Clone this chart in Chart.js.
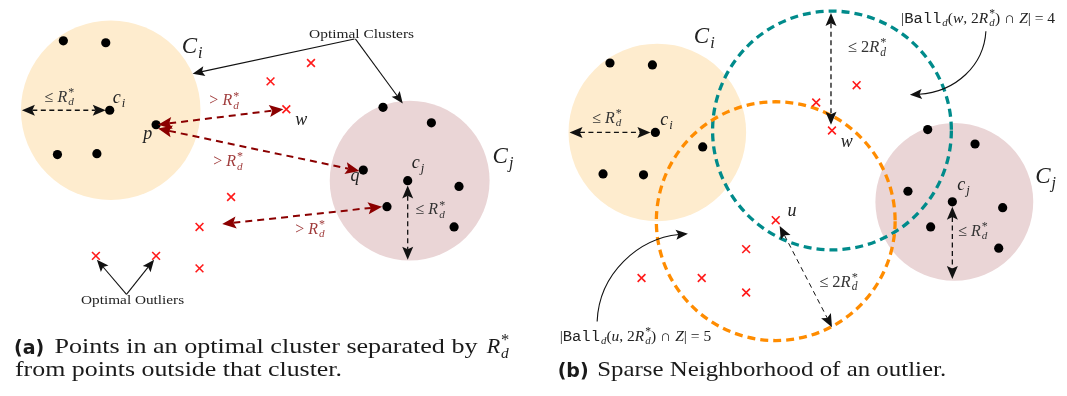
<!DOCTYPE html>
<html>
<head>
<meta charset="utf-8">
<script src="https://cdn.jsdelivr.net/npm/chart.js@4.4.0/dist/chart.umd.min.js"></script>
<style>
  html, body { margin: 0; padding: 0; background: #fff; }
  canvas { display: block; }
</style>
</head>
<body>
<canvas id="fig" width="1067" height="396"></canvas>
<script>
// ---- data (figure units, y grows downwards) ----
// panel (a)
const clusterPtsA = [[57,35],[100,37],[104,107],[151,122],[51,153],[91,152],
  [381,104],[430,120],[361,169],[406,180],[458,186],[385,207],[453,228]];
const outliersA = [[267,77],[308,58],[283,106],[227,197],[195,228],[90,258],[151,258],[195,271]];
const clustersA = [[105,107,91],[408,180,81]]; // cx, cy, radius

// panel (b)
const clusterPtsB = [[611,58],[654,60],[657,130],[705,145],[604,173],[645,174],
  [933,127],[981,142],[913,191],[958,202],[1009,208],[936,228],[1005,250]];
const outliersB = [[861,81],[820,99],[836,128],[779,221],[749,251],[643,281],[704,281],[749,296]];
const clustersB = [[659,130,90],[960,202,80]];
const ballsB = [[836,128,121],[779,222,121]]; // Ball(w,2R), Ball(u,2R)

// annotation arrows [x1,y1,x2,y2]
const blackDashArrows = [[15,107,100,107],[406,185,406,262],[570,130,652,130],[958,207,958,282],[835,6,835,122]];
const thinDashArrows = [[783,227,836,332]];
const redDashArrows = [[153,122,280,106],[153,126,357,170],[218,225,380,207]];
const solidArrows = [[352,33,188,69],[353,33,401,100],[121,298,91,262],[121,298,149,262]];
const curvedArrows = [[992,25,990,60,962,88,915,91],[598,326,600,276,640,240,690,235]];

const clusterFill = ['#feecce', '#ead5d6'];
const ballColors = ['#008b8b', '#ff8c00'];

const LE = ['≤ ', 'r'];
const RD = ['R', 'i', 'd', '*'];
const labels = [
  // x, baseline y, size, colour, parts
  [177, 48, 23, '#222', [['C','i','i']]],
  [107, 99, 18, '#222', [['c','i','i']]],
  [38, 98, 16, '#333', [LE, RD]],
  [138, 137, 18, '#222', [['p','i']]],
  [292, 122, 18, '#222', [['w','i']]],
  [205, 102, 16, '#a03c3c', [['> ','r'], RD]],
  [209, 165, 16, '#a03c3c', [['> ','r'], RD]],
  [292, 235, 16, '#a03c3c', [['> ','r'], RD]],
  [492, 162, 23, '#222', [['C','i','j']]],
  [410, 167, 18, '#222', [['c','i','j']]],
  [348, 180, 18, '#222', [['q','i']]],
  [414, 215, 16, '#333', [LE, RD]],
  [696, 37, 23, '#222', [['C','i','i']]],
  [662, 122, 18, '#222', [['c','i','i']]],
  [593, 120, 16, '#333', [LE, RD]],
  [845, 145, 18, '#222', [['w','i']]],
  [791, 217, 18, '#222', [['u','i']]],
  [1042, 182, 23, '#222', [['C','i','j']]],
  [963, 190, 18, '#222', [['c','i','j']]],
  [964, 237, 16, '#333', [LE, RD]],
  [852, 47, 16.5, '#333', [['≤ 2','r'], RD]],
  [823, 290, 16.5, '#333', [['≤ 2','r'], RD]],
  [906, 16, 15.5, '#222', [['|','r'],['Ball','t','d'],['(','r'],['w','i'],[', 2','r'],RD,[') ∩ ','r'],['Z','i'],['| = 4','r']]],
  [560, 346, 15.5, '#222', [['|','r'],['Ball','t','d'],['(','r'],['u','i'],[', 2','r'],RD,[') ∩ ','r'],['Z','i'],['| = 5','r']]],
];

function fontOf(kind, size) {
  if (kind === 'i') return 'italic ' + size + 'px "Liberation Serif"';
  if (kind === 't') return size + 'px "Liberation Mono"';
  return size + 'px "Liberation Serif"';
}

function drawMath(ctx, x, y, size, color, parts) {
  ctx.fillStyle = color;
  ctx.textBaseline = 'alphabetic';
  ctx.textAlign = 'left';
  let cx = x;
  parts.forEach(([t, k, sub, sup]) => {
    ctx.font = fontOf(k, size);
    ctx.fillText(t, cx, y);
    cx += ctx.measureText(t).width;
    let w = 0;
    if (sub) {
      ctx.font = fontOf('i', size * 0.7);
      ctx.fillText(sub, cx + 1, y + size * 0.22);
      w = Math.max(w, ctx.measureText(sub).width + 1);
    }
    if (sup) {
      ctx.font = fontOf('r', size * 0.75);
      ctx.fillText(sup, cx + 1, y - size * 0.36);
      w = Math.max(w, ctx.measureText(sup).width + 1);
    }
    cx += w;
  });
}

function fitText(ctx, text, x, y, width, font) {
  ctx.font = font;
  const m = ctx.measureText(text).width;
  ctx.save();
  ctx.translate(x, y);
  ctx.scale(width / m, 1);
  ctx.fillText(text, 0, 0);
  ctx.restore();
}

function arrowHead(ctx, tx, ty, fx, fy, len, half, color) {
  const a = Math.atan2(ty - fy, tx - fx);
  ctx.save();
  ctx.translate(tx, ty);
  ctx.rotate(a);
  ctx.fillStyle = color;
  ctx.beginPath();
  ctx.moveTo(0, 0);
  ctx.lineTo(-len, -half);
  ctx.lineTo(-len * 0.8, 0);
  ctx.lineTo(-len, half);
  ctx.closePath();
  ctx.fill();
  ctx.restore();
}

function dashArrow(ctx, s, color, width, dash, len, half, both) {
  const [x1, y1, x2, y2] = s;
  const d = Math.hypot(x2 - x1, y2 - y1), ux = (x2 - x1) / d, uy = (y2 - y1) / d;
  ctx.save();
  ctx.strokeStyle = color;
  ctx.lineWidth = width;
  ctx.setLineDash(dash);
  ctx.beginPath();
  const b = both ? len * 0.8 : 0;
  ctx.moveTo(x1 + ux * b, y1 + uy * b);
  ctx.lineTo(x2 - ux * len * 0.8, y2 - uy * len * 0.8);
  ctx.stroke();
  ctx.restore();
  arrowHead(ctx, x2, y2, x1, y1, len, half, color);
  if (both) arrowHead(ctx, x1, y1, x2, y2, len, half, color);
}

const figurePlugin = {
  id: 'figure',
  beforeDatasetsDraw(chart) {
    const ctx = chart.ctx, X = chart.scales.x, Y = chart.scales.y;
    const px = v => X.getPixelForValue(v), py = v => Y.getPixelForValue(v);
    const pr = r => X.getPixelForValue(r) - X.getPixelForValue(0);
    ctx.save();
    [clustersA, clustersB].forEach(list => list.forEach(([cx, cy, r], i) => {
      ctx.fillStyle = clusterFill[i];
      ctx.beginPath();
      ctx.arc(px(cx), py(cy), pr(r), 0, Math.PI * 2);
      ctx.fill();
    }));
    ballsB.forEach(([cx, cy, r], i) => {
      ctx.strokeStyle = ballColors[i];
      ctx.lineWidth = 3.3;
      ctx.setLineDash([8, 5]);
      ctx.beginPath();
      ctx.arc(px(cx), py(cy), pr(r), 0, Math.PI * 2);
      ctx.stroke();
    });
    ctx.restore();
  },
  afterDatasetsDraw(chart) {
    const ctx = chart.ctx, X = chart.scales.x, Y = chart.scales.y;
    const px = v => X.getPixelForValue(v), py = v => Y.getPixelForValue(v);
    const P = s => s.map((v, i) => i % 2 ? py(v) : px(v));
    ctx.save();
    blackDashArrows.forEach(s => dashArrow(ctx, P(s), '#111', 1.3, [5, 3.5], 13, 5.5, true));
    thinDashArrows.forEach(s => dashArrow(ctx, P(s), '#111', 1, [5, 4], 13, 5.5, true));
    redDashArrows.forEach(s => dashArrow(ctx, P(s), '#8b0000', 2, [7, 5], 14, 6, true));
    solidArrows.forEach(s => dashArrow(ctx, P(s), '#111', 1.1, [], 12, 5, false));
    curvedArrows.forEach(c => {
      const q = P(c);
      ctx.strokeStyle = '#111';
      ctx.lineWidth = 1.1;
      ctx.setLineDash([]);
      ctx.beginPath();
      ctx.moveTo(q[0], q[1]);
      const ux = q[6] - q[4], uy = q[7] - q[5], d = Math.hypot(ux, uy);
      ctx.bezierCurveTo(q[2], q[3], q[4], q[5], q[6] - ux / d * 9, q[7] - uy / d * 9);
      ctx.stroke();
      arrowHead(ctx, q[6], q[7], q[4], q[5], 12, 5, '#111');
    });

    labels.forEach(([x, y, s, c, parts]) => drawMath(ctx, px(x), py(y), s, c, parts));

    ctx.fillStyle = '#222';
    ctx.textAlign = 'left';
    fitText(ctx, 'Optimal Clusters', px(306), py(32), 105, '13px "Liberation Serif"');
    fitText(ctx, 'Optimal Outliers', px(75), py(308), 103, '13px "Liberation Serif"');

    // captions
    ctx.fillStyle = '#1a1a1a';
    ctx.font = 'bold 19px "DejaVu Sans"';
    ctx.fillText('(a)', px(7), py(360));
    ctx.fillText('(b)', px(558), py(384));
    fitText(ctx, 'Points in an optimal cluster separated by', px(48), py(359), 423, '21px "Liberation Serif"');
    drawMath(ctx, px(486), py(359), 22, '#1a1a1a', [RD]);
    fitText(ctx, 'from points outside that cluster.', px(8), py(383), 327, '21px "Liberation Serif"');
    fitText(ctx, 'Sparse Neighborhood of an outlier.', px(598), py(383), 349, '21px "Liberation Serif"');
    ctx.restore();
  }
};

const toXY = a => a.map(([x, y]) => ({ x, y }));

new Chart(document.getElementById('fig').getContext('2d'), {
  type: 'scatter',
  data: {
    datasets: [
      {
        label: 'cluster points',
        data: toXY(clusterPtsA.concat(clusterPtsB)),
        pointStyle: 'circle',
        pointRadius: 4.6,
        backgroundColor: '#000',
        borderWidth: 0,
      },
      {
        label: 'outliers',
        data: toXY(outliersA.concat(outliersB)),
        pointStyle: 'crossRot',
        pointRadius: 5.5,
        borderColor: '#ff1a1a',
        borderWidth: 1.6,
      },
    ],
  },
  options: {
    responsive: false,
    animation: false,
    layout: { padding: 0 },
    plugins: { legend: { display: false }, tooltip: { enabled: false } },
    scales: {
      x: { type: 'linear', min: 0, max: 1067, display: false },
      y: { type: 'linear', min: 0, max: 396, reverse: true, display: false },
    },
  },
  plugins: [figurePlugin],
});
</script>
</body>
</html>
